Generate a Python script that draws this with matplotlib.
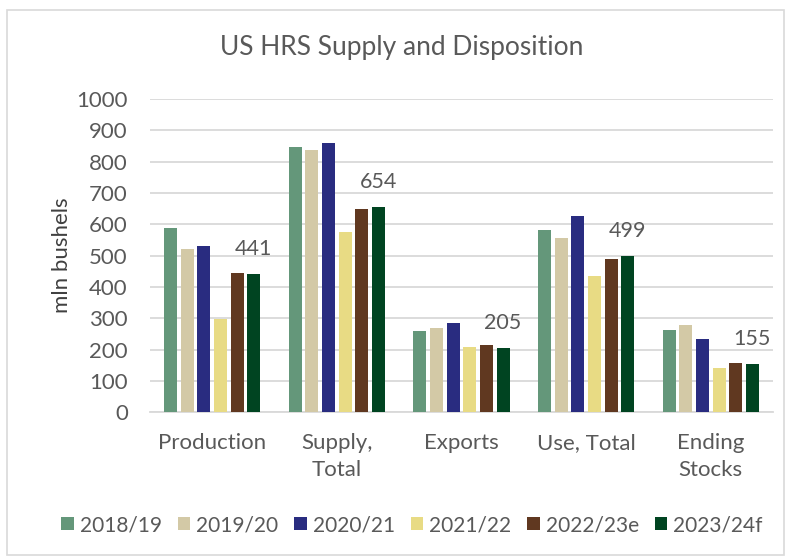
import matplotlib
matplotlib.use("Agg")
import matplotlib.pyplot as plt
import numpy as np
from matplotlib.patches import Rectangle

categories = ["Production", "Supply,\nTotal", "Exports", "Use, Total", "Ending\nStocks"]
series_names = ["2018/19", "2019/20", "2020/21", "2021/22", "2022/23e", "2023/24f"]
colors = ["#64977A", "#D3C9A6", "#292C80", "#E8DB84", "#603820", "#004421"]

v_2018 = [587, 847, 260, 583, 264]
v_2019 = [522, 838, 268, 555, 280]
v_2020 = [530, 858, 284, 625, 235]
v_2021 = [297, 575, 207, 436, 141]
v_2022 = [444, 648, 214, 489, 157]
v_2023 = [441, 654, 205, 499, 155]
series = [v_2018, v_2019, v_2020, v_2021, v_2022, v_2023]

yticks = [0, 100, 200, 300, 400, 500, 600, 700, 800, 900, 1000]

plt.rcParams['font.family'] = ['Lato', 'DejaVu Sans']
txt = "#595959"

fig = plt.figure(figsize=(7.86, 5.59), dpi=100)
fig.patches.append(Rectangle((7/786, 4/559), 777/786, 545/559, transform=fig.transFigure,
                             fill=False, edgecolor="#d9d9d9", linewidth=1.2))

ax = fig.add_axes([150/786, 1 - 412.3/559, (773 - 150)/786, (412.3 - 99)/559])
x = np.arange(len(categories))
pitch = 0.1336
width = 0.104
for i, (name, vals, c) in enumerate(zip(series_names, series, colors)):
    pos = x + (i - 2.5) * pitch
    ax.bar(pos, vals, width=width, color=c, label=name, zorder=3)

last = series[-1]
for xi, v in zip(x, last):
    ax.annotate(str(v), xy=(xi + 2.5 * pitch, v), xytext=(0, 18), textcoords="offset points",
                ha="center", va="center", fontsize=15.5, color=txt)

ax.set_xlim(-0.5, 4.5)
ax.set_ylim(0, 1000)
ax.set_yticks(yticks)
ax.set_yticklabels([str(t) for t in yticks], fontsize=16, color=txt)
ax.set_xticks(x)
ax.set_xticklabels(categories, fontsize=16, color=txt, linespacing=1.45)
ax.tick_params(axis="both", length=0)
ax.tick_params(axis="y", pad=16)
ax.tick_params(axis="x", pad=15)
ax.grid(axis="y", color="#d9d9d9", linewidth=1.3, zorder=0)
for s in ["top", "right", "left"]:
    ax.spines[s].set_visible(False)
ax.spines["bottom"].set_color("#d9d9d9")
ax.spines["bottom"].set_linewidth(1.3)
ax.set_ylabel("mln bushels", fontsize=16, color="#404040")
ax.yaxis.set_label_coords(-0.125, 0.5)

fig.text(402/786, 1 - 48/559, "US HRS Supply and Disposition", ha="center", va="center",
         fontsize=19, color=txt)

handles, labels = ax.get_legend_handles_labels()
leg = fig.legend(handles, labels, loc="center", bbox_to_anchor=(412/786, 1 - 525/559), ncol=6,
                 frameon=False, fontsize=15, handlelength=0.6, handleheight=0.6,
                 handletextpad=0.3, columnspacing=0.75, labelcolor=txt)

fig.savefig("out.png", dpi=100, facecolor="white")
